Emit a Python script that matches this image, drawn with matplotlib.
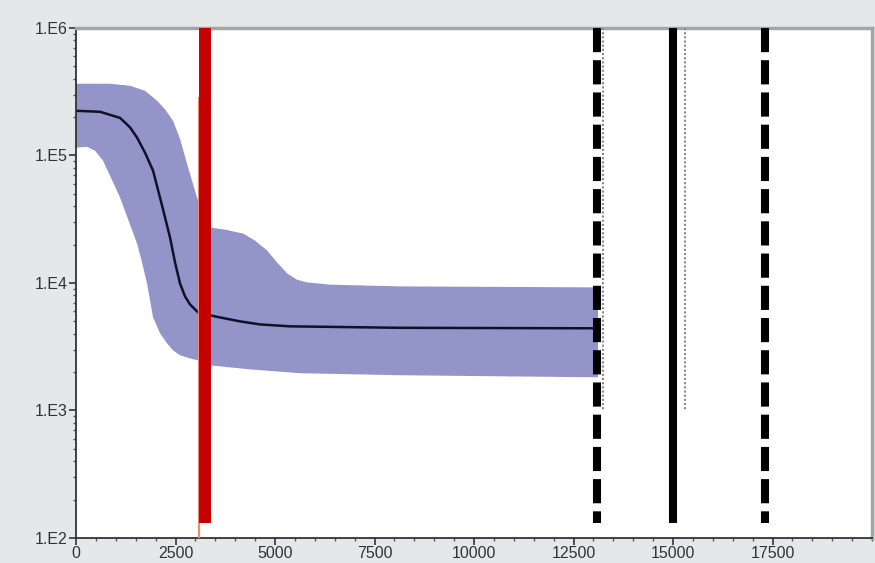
import numpy as np
import matplotlib
matplotlib.use("Agg")
import matplotlib.pyplot as plt
from matplotlib.ticker import FixedLocator, MultipleLocator, FuncFormatter, LogLocator, NullFormatter

# median curve
median_x = [0, 603, 1106, 1357, 1533, 1734, 1935, 2161, 2362, 2487, 2613, 2739, 2864, 3065,
            3367, 3744, 4121, 4623, 5377, 8141, 13116]
median_y = [2.24e5, 2.20e5, 1.97e5, 1.66e5, 1.38e5, 1.05e5, 7.60e4, 4.05e4, 2.27e4, 1.45e4,
            9.9e3, 7.84e3, 6.79e3, 5.88e3, 5.57e3, 5.27e3, 5.00e3, 4.73e3, 4.57e3, 4.45e3, 4.41e3]

# upper edge of band
upper_x = [0, 854, 1357, 1734, 2035, 2236, 2437, 2613, 2789, 3040, 3367, 3744, 4196, 4497,
           4799, 5050, 5302, 5553, 5804, 6382, 8141, 13116]
upper_y = [3.65e5, 3.65e5, 3.52e5, 3.21e5, 2.69e5, 2.30e5, 1.87e5, 1.35e5, 8.61e4, 4.67e4,
           2.72e4, 2.62e4, 2.44e4, 2.15e4, 1.80e4, 1.45e4, 1.19e4, 1.06e4, 1.01e4, 9.70e3,
           9.40e3, 9.23e3]

# lower edge of band
lower_x = [0, 276, 477, 678, 854, 1106, 1533, 1658, 1784, 1935, 2111, 2286, 2437, 2613, 2864,
           3065, 3367, 4372, 5628, 8141, 13116]
lower_y = [1.15e5, 1.17e5, 1.09e5, 9.10e4, 6.94e4, 4.67e4, 2.04e4, 1.45e4, 9.9e3, 5.37e3,
           4.03e3, 3.36e3, 2.96e3, 2.71e3, 2.56e3, 2.47e3, 2.26e3, 2.10e3, 1.96e3, 1.89e3, 1.82e3]

# vertical markers
red_x = 3240
orange_x = 3100
orange_top = 2.83e5
dashed_x = [13100, 17300]
solid_x = 15000
dotted_x = [13230, 15290]
dotted_bottom = 1e3
line_bottom = 131
y_top = 1e6

y_major = [1e2, 1e3, 1e4, 1e5, 1e6]
x_major = [0, 2500, 5000, 7500, 10000, 12500, 15000, 17500]


def main():
    plt.rcParams["font.family"] = ["Liberation Sans", "DejaVu Sans"]

    fig = plt.figure(figsize=(8.75, 5.63), dpi=100)
    fig.patch.set_facecolor("#e5e8e9")
    ax = fig.add_axes([0.0869, 0.0444, 0.9097, 0.906])
    ax.set_facecolor("white")

    # band as polygon
    poly_x = list(upper_x) + list(lower_x[::-1])
    poly_y = list(upper_y) + list(lower_y[::-1])
    ax.fill(poly_x, poly_y, color="#9394c7", lw=0, zorder=1, antialiased=True)
    ax.plot(median_x, median_y, color="#10102a", lw=1.8, zorder=2)

    # vertical lines
    ax.plot([orange_x, orange_x], [orange_top, 100], color="#f28a70", lw=1.6, zorder=3)
    ax.plot([red_x, red_x], [y_top, line_bottom], color="#c40000", lw=8.6,
            solid_capstyle="butt", zorder=4)
    for xv in dotted_x:
        ax.plot([xv, xv], [y_top, dotted_bottom], color="#8a8a8a", lw=1.5,
                linestyle=(0, (1, 1)), zorder=3)
    for xv in dashed_x:
        ax.plot([xv, xv], [y_top, line_bottom], color="black", lw=5.8,
                linestyle=(0, (3, 1)), dash_capstyle="butt", zorder=4)
    ax.plot([solid_x, solid_x], [y_top, line_bottom], color="black", lw=5.8,
            solid_capstyle="butt", zorder=4)

    ax.set_yscale("log")
    ax.set_ylim(1e2, 1e6)
    ax.set_xlim(0, 20000)

    ax.yaxis.set_major_locator(FixedLocator(y_major))
    ax.yaxis.set_major_formatter(FuncFormatter(lambda v, p: "1.E%d" % int(round(np.log10(v)))))
    ax.yaxis.set_minor_locator(LogLocator(base=10, subs=np.arange(2, 10)))
    ax.yaxis.set_minor_formatter(NullFormatter())
    ax.xaxis.set_major_locator(FixedLocator(x_major))
    ax.xaxis.set_minor_locator(MultipleLocator(500))

    ax.tick_params(axis="both", which="major", direction="out", length=5, width=1.2,
                   color="#333333", labelsize=11.5, labelcolor="#333333", pad=1)
    ax.tick_params(axis="both", which="minor", direction="out", length=2.5, width=1,
                   color="#555555")

    for side in ["left", "bottom"]:
        ax.spines[side].set_color("#333333")
        ax.spines[side].set_linewidth(1.3)
    for side in ["top", "right"]:
        ax.spines[side].set_color("#a5a5a5")
        ax.spines[side].set_linewidth(2.5)

    fig.savefig("out.png", dpi=100, facecolor=fig.get_facecolor())
    plt.close(fig)


if __name__ == "__main__":
    main()
